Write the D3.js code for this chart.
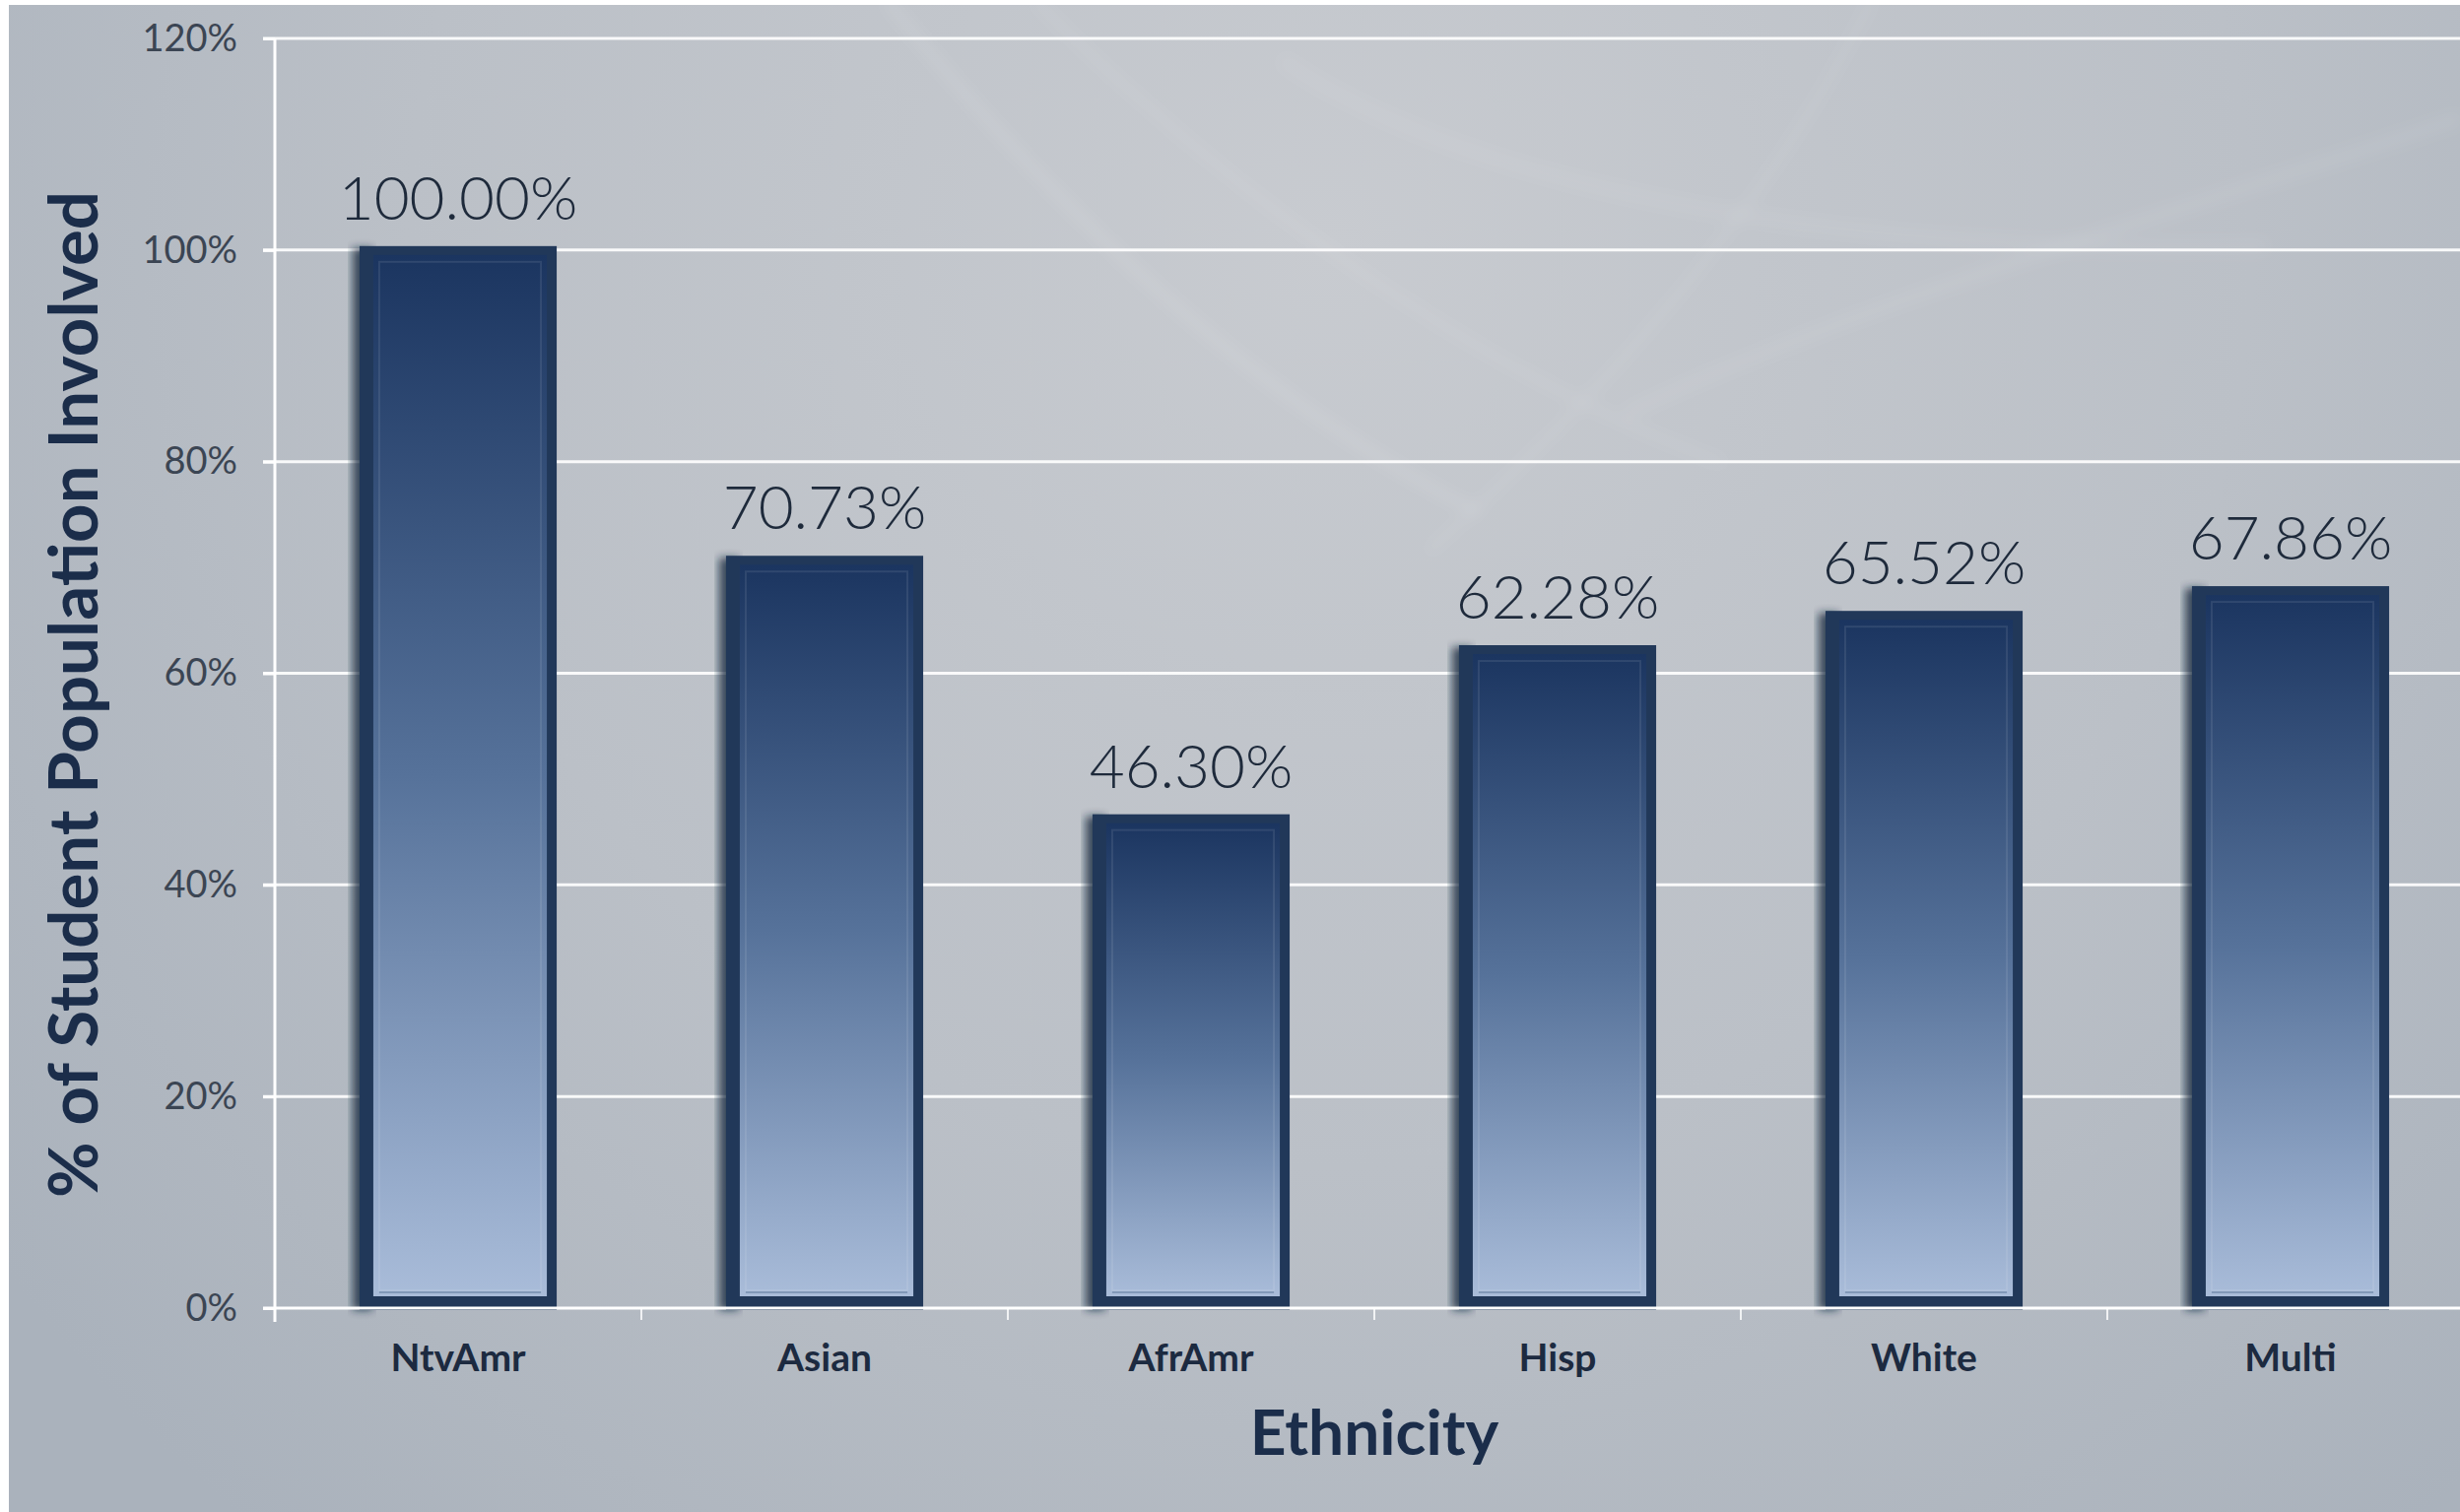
<!DOCTYPE html>
<html>
<head>
<meta charset="utf-8">
<script src="https://cdn.jsdelivr.net/npm/d3@7"></script>
<style>
  html, body { margin: 0; padding: 0; background: #ffffff; }
  svg { display: block; }
</style>
</head>
<body>
<svg id="chart" width="2497" height="1535"></svg>
<script>
// Student involvement by ethnicity
const categories = ["NtvAmr", "Asian", "AfrAmr", "Hisp", "White", "Multi"];
const involvement = [100.00, 70.73, 46.30, 62.28, 65.52, 67.86];
const yTicks = [0, 20, 40, 60, 80, 100, 120];
const yTitle = "% of Student Population Involved";
const xTitle = "Ethnicity";

const W = 2497, H = 1535;
const plot = { left: 279, top: 39, right: 2511, bottom: 1328 };

const svg = d3.select("#chart");
const defs = svg.append("defs");

// page background
const bg = defs.append("radialGradient").attr("id", "bgGrad")
  .attr("gradientUnits", "userSpaceOnUse")
  .attr("cx", 1350).attr("cy", 250).attr("r", 1700);
bg.append("stop").attr("offset", 0).attr("stop-color", "#c8cbd0");
bg.append("stop").attr("offset", 0.55).attr("stop-color", "#bbc0c7");
bg.append("stop").attr("offset", 1).attr("stop-color", "#aab2bc");

const soft = defs.append("filter").attr("id", "soft")
  .attr("x", "-20%").attr("y", "-20%").attr("width", "140%").attr("height", "140%");
soft.append("feGaussianBlur").attr("stdDeviation", 7);

const shadow = defs.append("filter").attr("id", "barShadow")
  .attr("x", "-20%").attr("y", "-5%").attr("width", "140%").attr("height", "110%");
shadow.append("feGaussianBlur").attr("stdDeviation", 4);

// bar fill: dark navy at the top fading to pale blue at the base
const barGrad = defs.append("linearGradient").attr("id", "barGrad")
  .attr("x1", 0).attr("y1", 0).attr("x2", 0).attr("y2", 1);
barGrad.append("stop").attr("offset", 0).attr("stop-color", "#1b3560");
barGrad.append("stop").attr("offset", 0.5).attr("stop-color", "#56729a");
barGrad.append("stop").attr("offset", 1).attr("stop-color", "#a9bcd9");

svg.append("rect").attr("x", 9).attr("y", 5).attr("width", W - 9).attr("height", H - 5)
  .attr("fill", "url(#bgGrad)");

// faint decorative swooshes in the backdrop
const swoosh = svg.append("g").attr("filter", "url(#soft)").attr("fill", "none")
  .attr("stroke", "#ffffff");
[
  ["M 900 0 C 1100 250, 1300 420, 1500 520", 0.10, 10],
  ["M 1050 0 C 1250 200, 1500 380, 1750 470", 0.08, 8],
  ["M 1900 0 C 1800 200, 1650 380, 1450 560", 0.07, 8],
  ["M 2497 120 C 2200 220, 1900 300, 1650 420", 0.07, 12],
  ["M 1300 60 C 1500 200, 1900 260, 2300 250", 0.06, 14]
].forEach(([d, op, w]) => {
  swoosh.append("path").attr("d", d).attr("stroke-opacity", op).attr("stroke-width", w);
});

const x = d3.scaleBand().domain(categories).range([plot.left, plot.right]).padding(0);
const y = d3.scaleLinear().domain([0, 120]).range([plot.bottom, plot.top]);
const barW = x.bandwidth() * 0.538;

// gridlines
svg.append("g").selectAll("line").data(yTicks.filter(t => t > 0)).join("line")
  .attr("x1", plot.left - 12).attr("x2", W)
  .attr("y1", d => y(d)).attr("y2", d => y(d))
  .attr("stroke", "#ffffff").attr("stroke-opacity", 0.9).attr("stroke-width", 3);

// y axis
const yAxis = svg.append("g").attr("transform", `translate(${plot.left},0)`)
  .call(d3.axisLeft(y).tickValues(yTicks).tickFormat(d => d + "%").tickSize(12).tickPadding(26));
yAxis.select(".domain").attr("stroke", "#ffffff").attr("stroke-width", 3)
  .attr("d", `M0,${plot.top}V${plot.bottom + 14}`);
yAxis.selectAll(".tick line").attr("stroke", "#ffffff").attr("stroke-width", 3);
yAxis.selectAll(".tick text")
  .attr("fill", "#3b4553").attr("font-family", "Lato, 'Open Sans', sans-serif")
  .attr("font-size", 38).attr("font-weight", 400);

// bars
const bars = svg.append("g").selectAll("g").data(categories).join("g")
  .attr("transform", d => `translate(${x(d) + x.bandwidth() / 2},0)`);

bars.append("rect") // soft left shadow
  .attr("x", -barW / 2 - 7).attr("width", 20)
  .attr("y", (d, i) => y(involvement[i]) - 2)
  .attr("height", (d, i) => y(0) - y(involvement[i]) + 4)
  .attr("fill", "#0f2038").attr("opacity", 0.75).attr("filter", "url(#barShadow)");

bars.append("rect") // dark frame
  .attr("x", -barW / 2).attr("width", barW)
  .attr("y", (d, i) => y(involvement[i]) - 4)
  .attr("height", (d, i) => y(0) - y(involvement[i]) + 6)
  .attr("fill", "#213859");

bars.append("rect") // gradient panel
  .attr("x", -barW / 2 + 14).attr("width", barW - 24)
  .attr("y", (d, i) => y(involvement[i]) + 5)
  .attr("height", (d, i) => y(0) - y(involvement[i]) - 17)
  .attr("fill", "url(#barGrad)");

bars.append("rect") // inner bevel
  .attr("x", -barW / 2 + 20).attr("width", barW - 36)
  .attr("y", (d, i) => y(involvement[i]) + 12)
  .attr("height", (d, i) => y(0) - y(involvement[i]) - 30)
  .attr("fill", "none").attr("stroke", "#ffffff").attr("stroke-opacity", 0.09)
  .attr("stroke-width", 2);

bars.append("line") // lower bevel edge
  .attr("x1", -barW / 2 + 20).attr("x2", barW / 2 - 16)
  .attr("y1", y(0) - 16).attr("y2", y(0) - 16)
  .attr("stroke", "#8198b8").attr("stroke-width", 2);

// value labels
bars.append("text")
  .attr("x", 0).attr("y", (d, i) => y(involvement[i]) - 31)
  .attr("text-anchor", "middle")
  .attr("font-family", "Lato, 'Open Sans', sans-serif")
  .attr("font-weight", 300).attr("font-size", 62).attr("fill", "#1e2a3b")
  .text((d, i) => d3.format(".2f")(involvement[i]) + "%");

// x axis baseline and boundary ticks
svg.append("line").attr("x1", plot.left - 12).attr("x2", W)
  .attr("y1", y(0)).attr("y2", y(0))
  .attr("stroke", "#ffffff").attr("stroke-width", 3);
svg.append("g").selectAll("line").data(categories).join("line")
  .attr("x1", d => x(d)).attr("x2", d => x(d))
  .attr("y1", y(0)).attr("y2", y(0) + 12)
  .attr("stroke", "#ffffff").attr("stroke-opacity", 0.8).attr("stroke-width", 2);

// category labels
svg.append("g").selectAll("text").data(categories).join("text")
  .attr("x", d => x(d) + x.bandwidth() / 2).attr("y", y(0) + 64)
  .attr("text-anchor", "middle")
  .attr("font-family", "Lato, 'Open Sans', sans-serif")
  .attr("font-weight", 700).attr("font-size", 39).attr("fill", "#1c2a40")
  .text(d => d);

// axis titles
svg.append("text")
  .attr("x", (plot.left + plot.right) / 2).attr("y", 1477)
  .attr("text-anchor", "middle")
  .attr("font-family", "Lato, 'Open Sans', sans-serif")
  .attr("font-weight", 700).attr("font-size", 64).attr("fill", "#1b2d4a")
  .text(xTitle);

svg.append("text")
  .attr("transform", "translate(99,705) rotate(-90)")
  .attr("text-anchor", "middle")
  .attr("font-family", "Lato, 'Open Sans', sans-serif")
  .attr("font-weight", 700).attr("font-size", 69).attr("fill", "#1b2d4a")
  .text(yTitle);
</script>
</body>
</html>
